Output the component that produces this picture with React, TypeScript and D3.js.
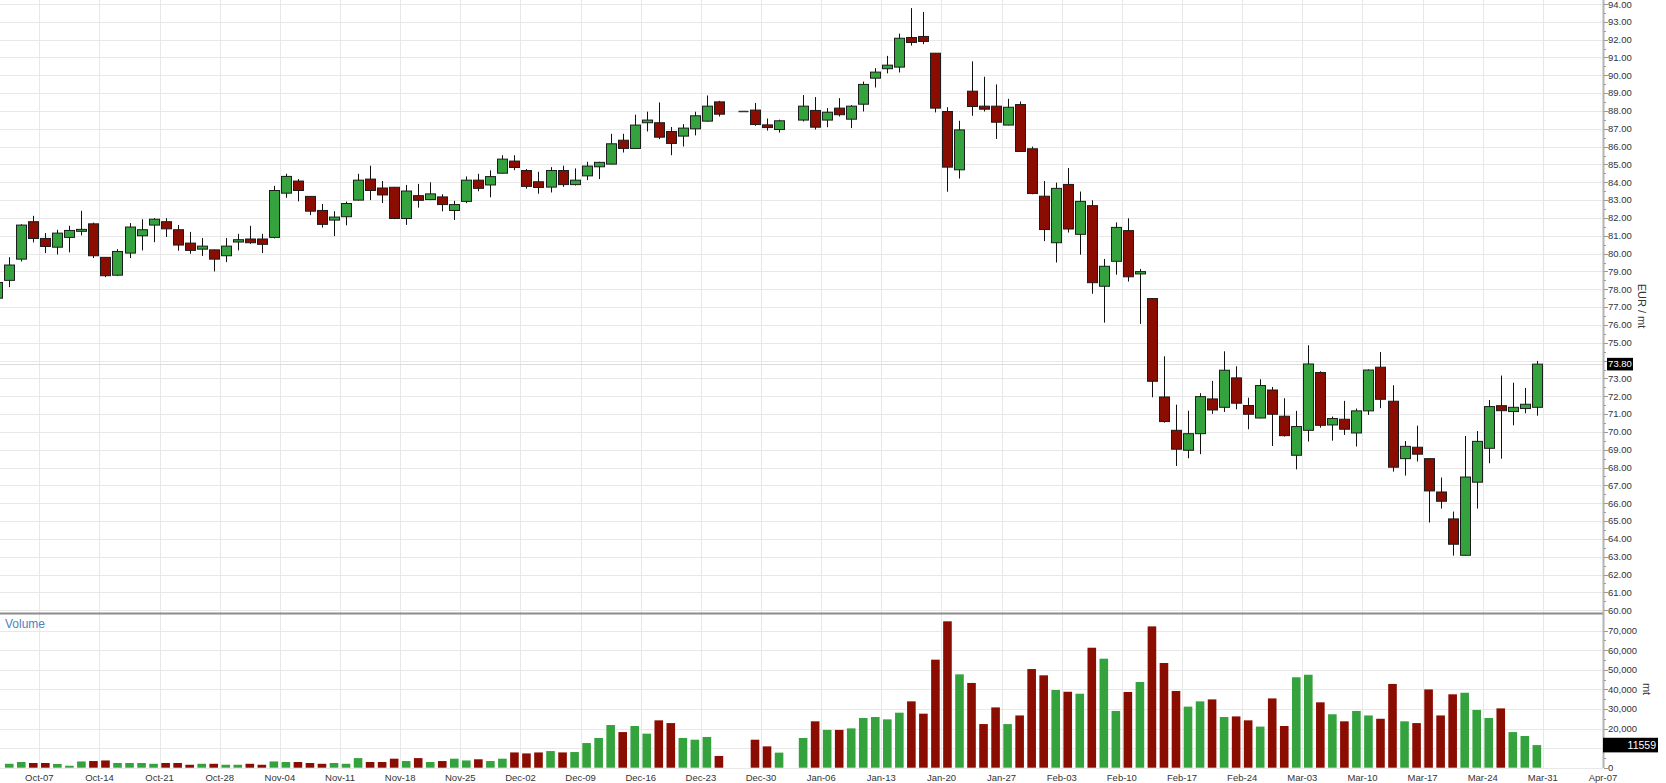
import React from "react";
import * as d3 from "d3";

// ---------- DATA ----------
const START = "2024-10-01";
const END = "2025-03-28";
const holidays = ["2024-12-25", "2025-01-01"];

const openP = [
  77.5, 78.5, 79.69, 81.79, 80.85, 80.36, 80.91, 81.25, 81.67, 79.79, 78.79, 80.03, 81.0, 81.6, 81.79, 81.34, 80.59, 80.25, 80.21, 79.88, 80.65, 80.82, 80.82,
  80.91, 83.39, 84.07, 83.21, 82.42, 81.88, 82.07, 83.0, 84.18, 83.68, 83.72, 81.97, 83.25, 83.03, 83.18, 82.42, 82.93, 84.12, 83.85, 84.51, 85.19,
  84.66, 84.03, 83.73, 84.66, 83.87, 84.36, 84.87, 85.02, 86.36, 85.9, 87.34, 87.34, 86.85, 86.59, 87.0, 87.43, 88.51, 88.0, 88.05, 87.22, 86.96,
  87.49, 88.03, 87.49, 88.16, 87.54, 88.38, 89.84, 90.37, 90.46, 92.12, 92.18, 91.24, 87.97, 84.7, 89.11, 88.27, 88.27, 87.21, 88.36, 85.88, 83.22, 80.61,
  83.88, 81.08, 82.69, 78.17, 79.57, 81.29, 78.86, 77.48, 71.96, 70.09, 68.97, 69.9, 71.85, 71.38, 73.03, 71.48, 70.78, 72.35, 70.88, 68.69,
  70.09, 73.33, 70.39, 70.71, 69.94, 71.18, 73.63, 71.72, 68.5, 69.14, 68.5, 66.63, 65.12, 63.08, 67.18, 69.08, 71.47, 71.14, 71.31, 71.38,
];
const highP = [
  78.5, 79.8, 81.65, 82.12, 81.15, 81.34, 81.56, 82.4, 81.74, 79.8, 80.25, 81.71, 81.93, 81.99, 81.99, 81.6, 81.22, 80.87, 80.23, 80.87, 81.11, 81.56, 81.11,
  83.8, 84.48, 84.18, 83.22, 82.78, 82.38, 82.92, 84.48, 84.93, 84.07, 83.74, 83.85, 83.91, 84.0, 83.33, 82.96, 84.33, 84.48, 84.67, 85.52, 85.52,
  84.74, 84.59, 84.85, 84.93, 84.78, 85.15, 85.15, 86.72, 86.72, 87.79, 87.96, 88.48, 87.1, 87.26, 87.96, 88.87, 88.57, 88.0, 88.45, 87.58, 87.51,
  88.89, 88.78, 88.16, 88.72, 88.33, 89.65, 90.4, 91.09, 92.34, 93.77, 93.56, 91.25, 88.21, 87.45, 90.78, 89.92, 89.49, 88.68, 88.53, 86.0, 84.07, 83.98,
  84.8, 83.48, 82.99, 79.7, 81.75, 81.98, 79.14, 77.5, 74.24, 71.53, 71.19, 72.17, 72.86, 74.52, 73.68, 71.92, 72.95, 72.52, 71.89, 71.18,
  74.86, 73.4, 70.86, 71.74, 71.31, 73.51, 74.48, 72.62, 69.49, 70.35, 68.52, 67.44, 65.53, 69.77, 70.05, 71.79, 73.16, 72.76, 72.47, 73.98,
];
const lowP = [
  77.3, 78.12, 79.56, 80.63, 80.03, 79.95, 80.07, 81.02, 79.75, 78.68, 78.75, 79.75, 80.18, 80.64, 80.93, 80.16, 79.99, 79.87, 79.0, 79.52, 80.18, 80.55, 80.03,
  80.85, 83.13, 82.93, 82.16, 81.46, 80.98, 81.59, 82.98, 83.0, 82.84, 81.93, 81.61, 82.58, 83.0, 82.37, 81.89, 82.83, 83.5, 83.16, 84.5, 84.68,
  83.64, 83.36, 83.43, 83.74, 83.82, 84.12, 84.18, 85.0, 85.67, 85.88, 86.85, 86.42, 85.52, 86.01, 86.63, 87.4, 87.69, 88.0, 87.17, 86.9, 86.79,
  87.41, 86.96, 87.09, 87.69, 87.04, 87.97, 89.32, 90.11, 90.16, 91.67, 91.75, 87.92, 83.47, 84.21, 87.73, 87.97, 86.43, 87.19, 85.7, 83.33, 80.7, 79.5,
  81.18, 79.94, 77.75, 76.13, 78.82, 78.43, 76.06, 71.94, 70.52, 68.09, 68.52, 68.75, 71.01, 71.12, 71.27, 70.15, 70.76, 69.21, 69.74, 67.9,
  69.46, 70.24, 69.51, 69.83, 69.18, 70.95, 71.33, 67.77, 67.55, 68.34, 64.92, 65.7, 63.06, 63.05, 65.7, 68.24, 68.5, 70.37, 71.04, 70.91,
];
const closeP = [
  78.38, 79.36, 81.6, 80.85, 80.4, 81.15, 81.3, 81.36, 79.88, 78.76, 80.12, 81.49, 81.34, 81.93, 81.39, 80.48, 80.18, 80.42, 79.69, 80.42, 80.78, 80.61, 80.52,
  83.54, 84.33, 83.54, 82.38, 81.64, 82.05, 82.81, 84.12, 83.54, 83.29, 81.97, 83.51, 82.99, 83.35, 82.75, 82.75, 84.12, 83.66, 84.32, 85.3, 84.83,
  83.77, 83.71, 84.66, 83.87, 84.12, 84.91, 85.12, 86.16, 85.9, 87.21, 87.49, 86.53, 86.18, 87.04, 87.73, 88.27, 87.82, 88.0, 87.24, 87.07, 87.45,
  88.27, 87.09, 87.93, 87.79, 88.27, 89.49, 90.18, 90.57, 92.08, 91.84, 91.9, 88.16, 84.85, 86.94, 88.25, 88.1, 87.37, 88.21, 85.73, 83.37, 81.35, 83.66,
  81.38, 82.93, 78.37, 79.29, 81.47, 78.7, 78.99, 72.84, 70.58, 69.03, 69.9, 71.98, 71.23, 73.46, 71.61, 70.99, 72.6, 70.99, 69.79, 70.3,
  73.81, 70.37, 70.75, 70.15, 71.18, 73.47, 71.83, 68.02, 69.19, 68.75, 66.69, 66.11, 63.7, 67.47, 69.47, 71.42, 71.19, 71.38, 71.55, 73.8,
];
// volume in thousands of mt (null = no bar)
const volumeK = [
  null, 2.0, 2.9, 2.4, 2.4, 1.9, 1.0, 3.2, 3.4, 3.7, 2.4, 2.4, 2.4, 2.0, 2.4, 2.4, 1.5, 2.0, 2.0, 1.5, 1.5, 2.0, 1.5,
  3.2, 2.9, 2.9, 2.4, 2.0, 2.4, 2.0, 4.9, 2.9, 2.9, 4.6, 3.4, 4.9, 2.9, 3.4, 4.6, 3.7, 4.3, 3.4, 4.6, 7.8,
  7.3, 7.8, 8.5, 7.8, 8.0, 12.6, 15.2, 21.8, 18.2, 21.3, 17.4, 24.2, 22.8, 15.2, 14.3, 15.7, 6.0, null, 14.3, 10.9, 7.7,
  15.2, 23.7, 19.3, 19.3, 20.1, 25.4, 25.9, 24.7, 28.1, 33.9, 27.6, 55.2, 74.8, 47.7, 43.3, 22.3, 30.8, 22.3, 26.7, 50.4, 47.2, 39.7,
  38.8, 37.8, 61.3, 55.7, 29.0, 38.7, 43.8, 72.2, 53.5, 39.2, 31.2, 33.9, 34.9, 25.9, 26.2, 24.2, 21.0, 35.4, 21.3, 46.2,
  47.5, 33.4, 27.3, 23.7, 29.0, 26.7, 25.0, 42.8, 23.7, 22.8, 40.0, 26.7, 37.5, 38.3, 29.5, 25.4, 30.3, 18.2, 16.2, 11.559,
];

const priceTicks = d3.range(60, 95, 1);
const volumeTicks = d3.range(0, 70001, 10000);
const FIRST_MONDAY = "2024-10-07";
const LAST_MONDAY = "2025-04-07";

// ---------- STYLE ----------
const GREEN = "#35a33d";
const RED = "#8b0c00";
const GRID = "#e8e8e8";
const FONT = "'Liberation Sans', Arial, sans-serif";

const W = 1666;
const H = 783;
const AXIS_X = 1603;

const parse = d3.timeParse("%Y-%m-%d");
const key = d3.timeFormat("%Y-%m-%d");
const fmtDate = d3.timeFormat("%b-%d");
const fmtPrice = d3.format(".2f");
const fmtVol = d3.format(",");

const weekdays = d3.timeDay
  .range(parse(START)!, d3.timeDay.offset(parse(END)!, 1))
  .filter((d) => d.getDay() !== 0 && d.getDay() !== 6);
const slotOf = new Map(weekdays.map((d, i) => [key(d), i]));
const tradingDays = weekdays.filter((d) => !holidays.includes(key(d)));
const mondays = d3.timeMonday.range(parse(FIRST_MONDAY)!, d3.timeDay.offset(parse(LAST_MONDAY)!, 1));
const firstMondaySlot = slotOf.get(FIRST_MONDAY)!;
const mondaySlot = (m: Date) => firstMondaySlot + 5 * d3.timeMonday.count(parse(FIRST_MONDAY)!, m);
const lastSlot = mondaySlot(parse(LAST_MONDAY)!);

const x = d3.scaleLinear().domain([0, lastSlot]).range([-8.8, AXIS_X]);
const yP = d3.scaleLinear().domain([60, 94]).range([610.2, 4]);
const yV = d3.scaleLinear().domain([0, 70000]).range([767.7, 630.7]);

const crisp = (v: number) => Math.round(v) + 0.5;

export default function App() {
  const bars = tradingDays.map((d, i) => ({
    slot: slotOf.get(key(d))!,
    o: openP[i],
    h: highP[i],
    l: lowP[i],
    c: closeP[i],
    v: volumeK[i],
  }));
  const last = bars[bars.length - 1];
  const lastVol = Math.round((last.v as number) * 1000);
  const sepY = 613.5;
  const lastPriceY = yP(last.c);
  const lastVolY = yV(lastVol);

  return (
    <svg
      width={W}
      height={H}
      style={{ position: "absolute", left: 0, top: 0, background: "#fff" }}
      fontFamily={FONT}
    >
      <defs>
        <clipPath id="plot">
          <rect x={0} y={0} width={AXIS_X} height={H} />
        </clipPath>
      </defs>
      <rect x={0} y={0} width={W} height={H} fill="#fff" />

      {/* horizontal grid: price */}
      {priceTicks.map((t) => (
        <line key={"pg" + t} x1={0} x2={AXIS_X} y1={crisp(yP(t))} y2={crisp(yP(t))} stroke={GRID} />
      ))}
      {/* horizontal grid: volume */}
      {volumeTicks.map((t) => (
        <line key={"vg" + t} x1={0} x2={AXIS_X} y1={crisp(yV(t))} y2={crisp(yV(t))} stroke={GRID} />
      ))}
      {/* vertical grid */}
      {mondays.map((m) => (
        <line
          key={"vgl" + key(m)}
          x1={crisp(x(mondaySlot(m)))}
          x2={crisp(x(mondaySlot(m)))}
          y1={0}
          y2={768}
          stroke={GRID}
        />
      ))}
      {/* last price line */}
      <line x1={0} x2={AXIS_X} y1={crisp(lastPriceY)} y2={crisp(lastPriceY)} stroke="#dcdcdc" />

      <g clipPath="url(#plot)">
        {/* candles */}
        {bars.map((b, i) => {
          const cx = crisp(x(b.slot + 0.5));
          const up = b.c >= b.o;
          const top = yP(Math.max(b.o, b.c));
          const bot = yP(Math.min(b.o, b.c));
          const bx = Math.round(cx - 5.5) + 0.5;
          return (
            <g key={"c" + i}>
              <line x1={cx} x2={cx} y1={yP(b.h)} y2={yP(b.l)} stroke="#111" strokeWidth={1} />
              {bot - top < 1 ? (
                <line x1={bx} x2={bx + 10} y1={crisp(top)} y2={crisp(top)} stroke="#333" strokeWidth={1.5} />
              ) : (
                <rect
                  x={bx}
                  y={top}
                  width={10}
                  height={bot - top}
                  fill={up ? GREEN : RED}
                  stroke="#1c1c1c"
                  strokeWidth={1}
                />
              )}
            </g>
          );
        })}
        {/* volume bars */}
        {bars.map((b, i) =>
          b.v == null ? null : (
            <rect
              key={"v" + i}
              x={x(b.slot + 0.5) - 4.3}
              y={yV(b.v * 1000)}
              width={8.6}
              height={yV(0) - yV(b.v * 1000)}
              fill={b.c >= b.o ? GREEN : RED}
            />
          )
        )}
      </g>

      {/* panel separator */}
      <line x1={0} x2={AXIS_X} y1={sepY} y2={sepY} stroke="#8c8c8c" strokeWidth={2} />
      <text x={5} y={628} fontSize={12} fill="#4f81bd">
        Volume
      </text>

      {/* right axis */}
      <line x1={AXIS_X + 0.5} x2={AXIS_X + 0.5} y1={0} y2={768} stroke="#b4b4b4" strokeWidth={2} />
      {d3.range(60, 94.01, 0.5).map((t) => (
        <line
          key={"pt" + t}
          x1={AXIS_X + 1}
          x2={AXIS_X + (t % 1 === 0 ? 5 : 3)}
          y1={crisp(yP(t))}
          y2={crisp(yP(t))}
          stroke="#999"
        />
      ))}
      {priceTicks
        .filter((t) => Math.abs(yP(t) - lastPriceY) > 9)
        .map((t) => (
          <text key={"pl" + t} x={1608} y={Math.max(yP(t), 5)} dy="0.35em" fontSize={9.5} fill="#333">
            {fmtPrice(t)}
          </text>
        ))}
      {d3.range(0, 70001, 5000).map((t) => (
        <line
          key={"vt" + t}
          x1={AXIS_X + 1}
          x2={AXIS_X + (t % 10000 === 0 ? 5 : 3)}
          y1={crisp(yV(t))}
          y2={crisp(yV(t))}
          stroke="#999"
        />
      ))}
      {volumeTicks
        .filter((t) => Math.abs(yV(t) - lastVolY) > 10)
        .map((t) => (
          <text key={"vl" + t} x={1608} y={yV(t)} dy="0.35em" fontSize={9.5} fill="#333">
            {fmtVol(t)}
          </text>
        ))}

      {/* axis titles */}
      <text transform={`translate(1638,306) rotate(90)`} textAnchor="middle" fontSize={11} fill="#333">
        EUR / mt
      </text>
      <text transform={`translate(1643,689) rotate(90)`} textAnchor="middle" fontSize={11} fill="#333">
        mt
      </text>

      {/* last value boxes */}
      <rect x={1607} y={lastPriceY - 6.3} width={26} height={12.6} fill="#000" />
      <text x={1620} y={lastPriceY} dy="0.35em" textAnchor="middle" fontSize={9.5} fill="#fff">
        {fmtPrice(last.c)}
      </text>
      <rect x={AXIS_X} y={lastVolY - 7.3} width={55} height={14.6} fill="#000" />
      <text x={1656} y={lastVolY} dy="0.36em" textAnchor="end" fontSize={10.5} fill="#fff">
        {lastVol}
      </text>

      {/* date axis */}
      {mondays.map((m) => (
        <text
          key={"dl" + key(m)}
          x={x(mondaySlot(m))}
          y={780.5}
          textAnchor="middle"
          fontSize={9.5}
          fill="#333"
        >
          {fmtDate(m)}
        </text>
      ))}
    </svg>
  );
}
